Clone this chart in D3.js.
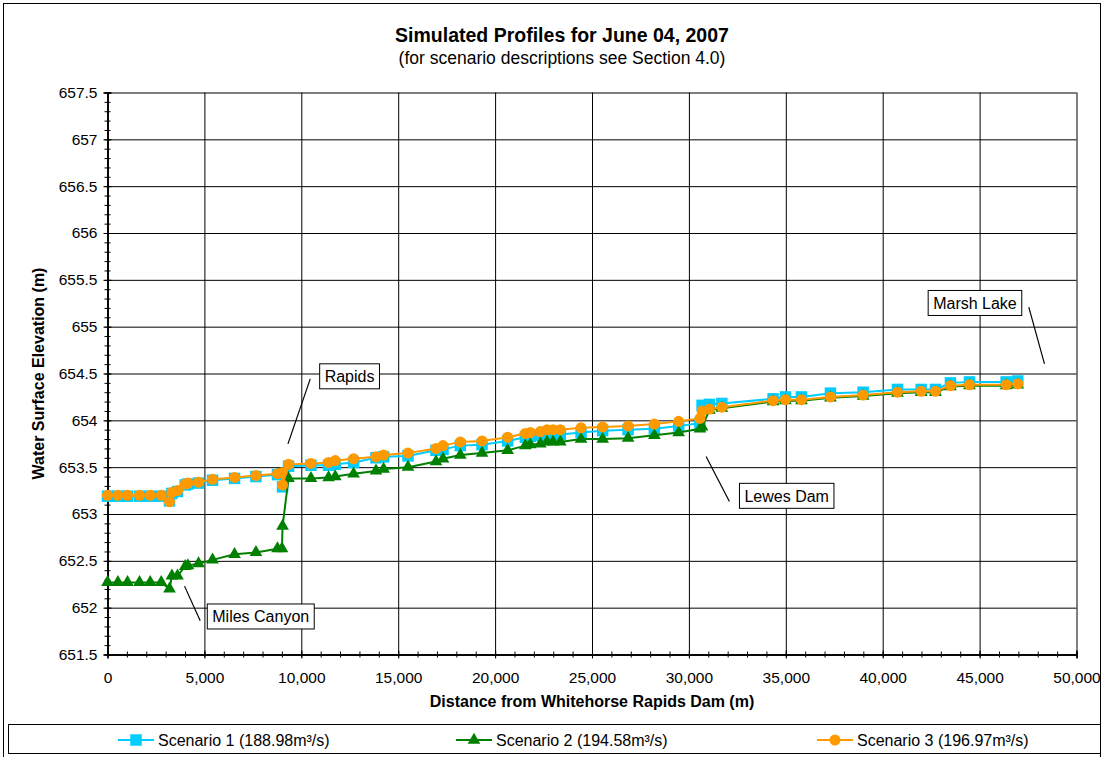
<!DOCTYPE html>
<html>
<head>
<meta charset="utf-8">
<script src="https://cdn.jsdelivr.net/npm/d3@7"></script>
<style>
    body { margin: 0; background: #fff; }
    svg { display: block; font-family: Arial, "Liberation Sans", sans-serif; }
</style>
</head>
<body>
<svg id="chart" width="1104" height="757"></svg>
<script>

/*------------------------------------ data ------------------------------------*/

//distance of each cross-section from the dam (m)
var distance = [0, 537, 1032, 1652, 2204, 2772, 3200, 3324, 3613, 4011, 4150, 4697,
    5420, 6555, 7660, 8770, 9002, 9033, 9342, 10498, 11407, 11753, 12697, 13854,
    14246, 15505, 16951, 17312, 18205, 19325, 20646, 21560, 21818, 22334, 22680, 22990,
    23366, 24435, 25549, 26861, 28218, 29472, 30570, 30680, 31060, 31700, 34345, 34980,
    35806, 37303, 38990, 40761, 41984, 42722, 43496, 44477, 46371, 46970];

//water surface elevation (m) for each scenario
var scenario1 = [653.19, 653.19, 653.19, 653.19, 653.19, 653.19, 653.14, 653.22, 653.24, 653.31, 653.32, 653.33,
    653.36, 653.38, 653.40, 653.42, 653.43, 653.29, 653.51, 653.52, 653.52, 653.53, 653.55, 653.60,
    653.61, 653.62, 653.68, 653.69, 653.73, 653.74, 653.78, 653.82, 653.83, 653.84, 653.85, 653.85,
    653.85, 653.87, 653.89, 653.90, 653.91, 653.94, 653.97, 654.16, 654.17, 654.18, 654.23, 654.25,
    654.25, 654.29, 654.30, 654.33, 654.33, 654.33, 654.40, 654.41, 654.41, 654.42];

var scenario2 = [652.27, 652.27, 652.27, 652.27, 652.27, 652.27, 652.20, 652.34, 652.34, 652.44, 652.45, 652.47,
    652.51, 652.57, 652.59, 652.63, 652.63, 652.87, 653.38, 653.38, 653.39, 653.40, 653.43, 653.46,
    653.48, 653.50, 653.56, 653.59, 653.63, 653.65, 653.68, 653.73, 653.74, 653.75, 653.77, 653.77,
    653.77, 653.80, 653.80, 653.81, 653.84, 653.87, 653.91, 653.93, 654.11, 654.13, 654.20, 654.21,
    654.21, 654.24, 654.26, 654.29, 654.30, 654.30, 654.36, 654.37, 654.37, 654.38];

var scenario3 = [653.20, 653.20, 653.20, 653.20, 653.20, 653.20, 653.13, 653.23, 653.25, 653.32, 653.33, 653.34,
    653.37, 653.39, 653.41, 653.43, 653.44, 653.31, 653.53, 653.54, 653.55, 653.57, 653.59, 653.61,
    653.63, 653.65, 653.70, 653.73, 653.77, 653.78, 653.82, 653.86, 653.87, 653.88, 653.90, 653.90,
    653.90, 653.92, 653.93, 653.94, 653.96, 653.99, 654.02, 654.10, 654.12, 654.14, 654.21, 654.22,
    654.22, 654.25, 654.27, 654.30, 654.31, 654.31, 654.37, 654.38, 654.38, 654.39];

var seriesNames = ["Scenario 1 (188.98m³/s)", "Scenario 2 (194.58m³/s)", "Scenario 3 (196.97m³/s)"];

//axis ticks
var xTicks = [0, 5000, 10000, 15000, 20000, 25000, 30000, 35000, 40000, 45000, 50000];
var yTicks = [651.5, 652, 652.5, 653, 653.5, 654, 654.5, 655, 655.5, 656, 656.5, 657, 657.5];

//callout labels: text, box centre and leader line ends in data units
var calloutText = ["Miles Canyon", "Rapids", "Lewes Dam", "Marsh Lake"];
var calloutBox = [[7908, 651.906], [12491, 654.47], [35047, 653.194], [44761, 655.253]];
var calloutLine = [[3974, 652.23, 4785, 651.86], [10462, 654.443, 9311, 653.749],
    [30886, 653.614, 32090, 653.133], [47538, 655.208, 48348, 654.603]];

/*------------------------------------ chart ------------------------------------*/

var svg = d3.select("#chart");
var plot = { left: 107.5, right: 1076.5, top: 92.5, bottom: 654.5 };

var x = d3.scaleLinear().domain([0, 50000]).range([plot.left, plot.right]);
var y = d3.scaleLinear().domain([651.5, 657.5]).range([plot.bottom, plot.top]);

var minorX = d3.range(0, 50001, 1000);
var minorY = d3.range(0, 61).map(function (i) { return 651.5 + i * 0.1; });

//outer frame
svg.append("rect")
    .attr("x", 3.5).attr("y", 3.5)
    .attr("width", 1097).attr("height", 800)
    .attr("fill", "#fff").attr("stroke", "#000");

//titles
svg.append("text")
    .attr("x", 562).attr("y", 42)
    .attr("text-anchor", "middle")
    .style("font-size", "19.5px").style("font-weight", "bold")
    .text("Simulated Profiles for June 04, 2007");
svg.append("text")
    .attr("x", 562).attr("y", 64)
    .attr("text-anchor", "middle")
    .style("font-size", "17.5px")
    .text("(for scenario descriptions see Section 4.0)");

//gridlines
svg.append("g")
    .attr("transform", "translate(" + plot.left + ",0)")
    .call(d3.axisLeft(y).tickValues(yTicks).tickSize(-(plot.right - plot.left)).tickFormat(""))
    .call(function (g) { g.select(".domain").remove(); })
    .selectAll("line").attr("stroke", "#000");
svg.append("g")
    .attr("transform", "translate(0," + plot.bottom + ")")
    .call(d3.axisBottom(x).tickValues(xTicks).tickSize(-(plot.bottom - plot.top)).tickFormat(""))
    .call(function (g) { g.select(".domain").remove(); })
    .selectAll("line").attr("stroke", "#000");

//y axis (ticks cross the axis line)
var yAxis = svg.append("g").attr("transform", "translate(" + plot.left + ",0)");
yAxis.append("g").call(d3.axisLeft(y).tickValues(minorY).tickSize(3).tickFormat(""));
yAxis.append("g").call(d3.axisRight(y).tickValues(minorY).tickSize(3).tickFormat(""));
yAxis.append("g").call(d3.axisRight(y).tickValues(yTicks).tickSize(4).tickFormat(""));
yAxis.append("g")
    .call(d3.axisLeft(y).tickValues(yTicks).tickSize(4).tickPadding(6).tickFormat(function (d) { return String(d); }))
    .style("font-size", "15.5px").style("font-family", "Arial, 'Liberation Sans', sans-serif");
yAxis.selectAll(".domain").attr("stroke", "#000");
yAxis.selectAll("text").attr("fill", "#000");

//x axis
var xAxis = svg.append("g").attr("transform", "translate(0," + plot.bottom + ")");
xAxis.append("g").call(d3.axisBottom(x).tickValues(minorX).tickSize(3).tickFormat(""));
xAxis.append("g").call(d3.axisTop(x).tickValues(minorX).tickSize(3).tickFormat(""));
xAxis.append("g").call(d3.axisTop(x).tickValues(xTicks).tickSize(4).tickFormat(""));
xAxis.append("g")
    .call(d3.axisBottom(x).tickValues(xTicks).tickSize(4).tickPadding(13).tickFormat(d3.format(",")))
    .style("font-size", "15.5px").style("font-family", "Arial, 'Liberation Sans', sans-serif");
xAxis.selectAll("text").attr("fill", "#000");

//axis titles
svg.append("text")
    .attr("x", (plot.left + plot.right) / 2).attr("y", 707)
    .attr("text-anchor", "middle")
    .style("font-size", "16px").style("font-weight", "bold")
    .text("Distance from Whitehorse Rapids Dam (m)");
svg.append("text")
    .attr("transform", "translate(44," + (plot.top + plot.bottom) / 2 + ") rotate(-90)")
    .attr("text-anchor", "middle")
    .style("font-size", "16px").style("font-weight", "bold")
    .text("Water Surface Elevation (m)");

/*------------------------------------ series ------------------------------------*/

var series = [
    { name: seriesNames[0], values: scenario1, color: "#00CCFF", symbol: d3.symbolSquare, size: 132 },
    { name: seriesNames[1], values: scenario2, color: "#008000", symbol: d3.symbolTriangle, size: 70 },
    { name: seriesNames[2], values: scenario3, color: "#FF9900", symbol: d3.symbolCircle, size: 95 }
];

var line = d3.line()
    .x(function (d) { return x(d[0]); })
    .y(function (d) { return y(d[1]); });

series.forEach(function (s) {
    var pts = distance.map(function (d, i) { return [d, s.values[i]]; });
    var g = svg.append("g");
    g.append("path")
        .datum(pts)
        .attr("d", line)
        .attr("fill", "none")
        .attr("stroke", s.color)
        .attr("stroke-width", 2);
    g.selectAll(".marker")
        .data(pts)
        .enter().append("path")
        .attr("class", "marker")
        .attr("transform", function (d) { return "translate(" + x(d[0]) + "," + y(d[1]) + ")"; })
        .attr("d", d3.symbol().type(s.symbol).size(s.size))
        .attr("fill", s.color);
});

/*------------------------------------ callouts ------------------------------------*/

calloutText.forEach(function (t, i) {
    var l = calloutLine[i];
    svg.append("line")
        .attr("x1", x(l[0])).attr("y1", y(l[1]))
        .attr("x2", x(l[2])).attr("y2", y(l[3]))
        .attr("stroke", "#000").attr("stroke-width", 1.2);
    var g = svg.append("g")
        .attr("transform", "translate(" + x(calloutBox[i][0]) + "," + y(calloutBox[i][1]) + ")");
    var rect = g.append("rect").attr("fill", "#fff").attr("stroke", "#000");
    var txt = g.append("text")
        .attr("text-anchor", "middle")
        .attr("dy", "0.36em")
        .style("font-size", "16px")
        .text(t);
    var w = txt.node().getComputedTextLength() + 10;
    rect.attr("x", -w / 2).attr("y", -12.5).attr("width", w).attr("height", 25);
});

/*------------------------------------ legend ------------------------------------*/

var legend = svg.append("g");
legend.append("rect")
    .attr("x", 8.5).attr("y", 724.5)
    .attr("width", 1092).attr("height", 29)
    .attr("fill", "#fff").attr("stroke", "#000");

var legendX = [136, 474, 835];
series.forEach(function (s, i) {
    var g = legend.append("g").attr("transform", "translate(" + legendX[i] + ",740)");
    g.append("line")
        .attr("x1", -18).attr("x2", 18)
        .attr("stroke", s.color).attr("stroke-width", 2);
    g.append("path")
        .attr("d", d3.symbol().type(s.symbol).size(s.size))
        .attr("fill", s.color);
    g.append("text")
        .attr("x", 22).attr("dy", "0.36em")
        .style("font-size", "16px")
        .text(s.name);
});

</script>
</body>
</html>
